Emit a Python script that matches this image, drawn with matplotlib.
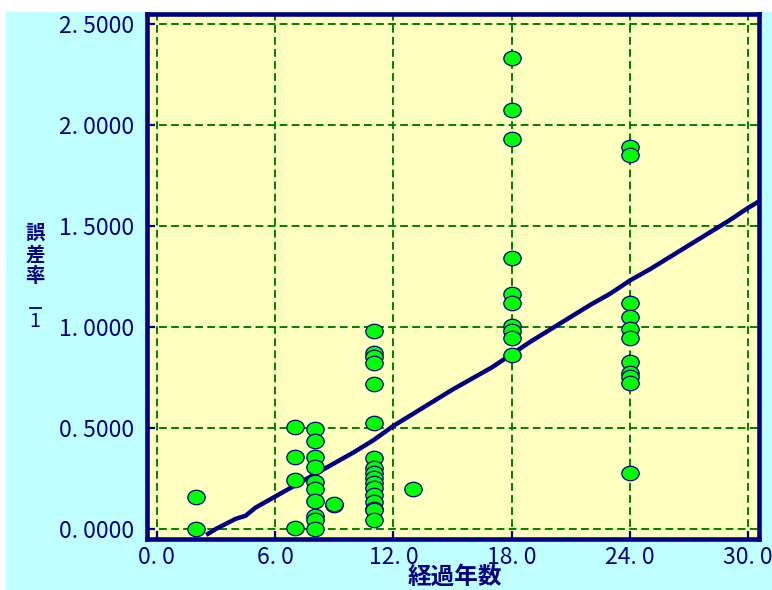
import matplotlib
matplotlib.use("Agg")
import matplotlib.pyplot as plt
from matplotlib.path import Path
from matplotlib.patches import Rectangle
from matplotlib.lines import Line2D
from matplotlib.ticker import FuncFormatter, FixedLocator
import numpy as np

plt.rcParams['font.family'] = ['Noto Sans CJK JP', 'DejaVu Sans']

# ---- data ----
pt_x = [2, 2,
        7, 7, 7, 7,
        8, 8, 8, 8, 8, 8, 8, 8, 8, 8,
        9, 9,
        11, 11, 11, 11, 11, 11, 11, 11, 11, 11, 11, 11, 11, 11, 11, 11, 11,
        13,
        18, 18, 18, 18, 18, 18, 18, 18, 18, 18,
        24, 24, 24, 24, 24, 24, 24, 24, 24, 24, 24]
pt_y = [0.16, 0.0,
        0.505, 0.356, 0.243, 0.005,
        0.497, 0.436, 0.357, 0.307, 0.233, 0.198, 0.136, 0.064, 0.042, 0.0,
        0.119, 0.125,
        0.98, 0.871, 0.85, 0.82, 0.72, 0.525, 0.35, 0.30, 0.277, 0.25, 0.228, 0.203, 0.168, 0.134, 0.098, 0.094, 0.045,
        0.198,
        2.33, 2.074, 1.93, 1.342, 1.163, 1.119, 1.005, 0.98, 0.946, 0.861,
        1.891, 1.851, 1.119, 1.05, 0.99, 0.946, 0.827, 0.772, 0.752, 0.723, 0.277]

line_x = [2.5, 3.0, 3.5, 4.0, 4.5, 5.0, 6.0, 7.0, 8.0, 9.0, 10.0, 11.0, 12.0, 13.0,
          14.0, 15.0, 16.0, 17.0, 18.0, 19.0, 20.0, 21.0, 22.0, 23.0, 24.0, 25.0,
          26.0, 27.0, 28.0, 29.0, 30.0, 30.6]
line_y = [-0.03, 0.0, 0.025, 0.05, 0.065, 0.105, 0.16, 0.215, 0.27, 0.325, 0.38, 0.44,
          0.51, 0.57, 0.63, 0.69, 0.745, 0.80, 0.865, 0.93, 0.99, 1.05, 1.11, 1.165,
          1.23, 1.285, 1.345, 1.405, 1.465, 1.525, 1.59, 1.625]

x_ticks = [0.0, 6.0, 12.0, 18.0, 24.0, 30.0]
y_ticks = [0.0, 0.5, 1.0, 1.5, 2.0, 2.5]

NAVY = '#000080'
fig = plt.figure(figsize=(7.72, 5.90), dpi=100)
fig.patch.set_facecolor('white')
fig.patches.append(Rectangle((6 / 772, 0), 1, (590 - 12) / 590, transform=fig.transFigure,
                             facecolor='#C0FFFF', edgecolor='none', zorder=-10))

ax = fig.add_axes([147 / 772, 1 - 539 / 590, (759 - 147) / 772, (539 - 14) / 590])
ax.set_facecolor('#FFFFC0')
ax.set_xlim(-0.5, 30.55)
ax.set_ylim(-0.05, 2.55)

ax.xaxis.set_major_locator(FixedLocator(x_ticks))
ax.yaxis.set_major_locator(FixedLocator(y_ticks))
ax.xaxis.set_major_formatter(FuncFormatter(lambda v, p: f"{v:.1f}".replace('.', '. ')))
ax.yaxis.set_major_formatter(FuncFormatter(lambda v, p: f"{v:.4f}".replace('.', '. ')))
ax.tick_params(axis='both', direction='in', length=6, width=1.6, color=NAVY,
               labelcolor=NAVY, labelsize=16.5, pad=5)
ax.tick_params(axis='y', pad=9)
ax.grid(True, color='#008000', linestyle=(0, (4, 2.2)), linewidth=1.4)
ax.set_axisbelow(True)
for s in ax.spines.values():
    s.set_color(NAVY)
    s.set_linewidth(3.3)

ax.plot(line_x, line_y, color=NAVY, linewidth=3.2, zorder=3, solid_capstyle='butt')

circ = Path.unit_circle()
ell = Path(circ.vertices * np.array([1.2, 1.0]), circ.codes)
ax.plot(pt_x, pt_y, linestyle='none', marker=ell, markersize=12.5,
        markerfacecolor='#00FF00', markeredgecolor=NAVY, markeredgewidth=0.9,
        zorder=4, clip_on=False)

fig.text(455 / 772, 1 - 577 / 590, '経過年数', color=NAVY, fontsize=17, fontweight='bold',
         ha='center', va='center')
for ch, yy in [('誤', 233), ('差', 255), ('率', 277)]:
    fig.text(35 / 772, 1 - yy / 590, ch, color=NAVY, fontsize=14, fontweight='bold',
             ha='center', va='center')
fig.lines.append(Line2D([30 / 772, 41 / 772], [1 - 308 / 590, 1 - 308 / 590],
                        transform=fig.transFigure, color=NAVY, linewidth=1.3))
fig.text(35 / 772, 1 - 322 / 590, '1', color=NAVY, fontsize=14,
         ha='center', va='center')

fig.savefig('out.png', dpi=100)
